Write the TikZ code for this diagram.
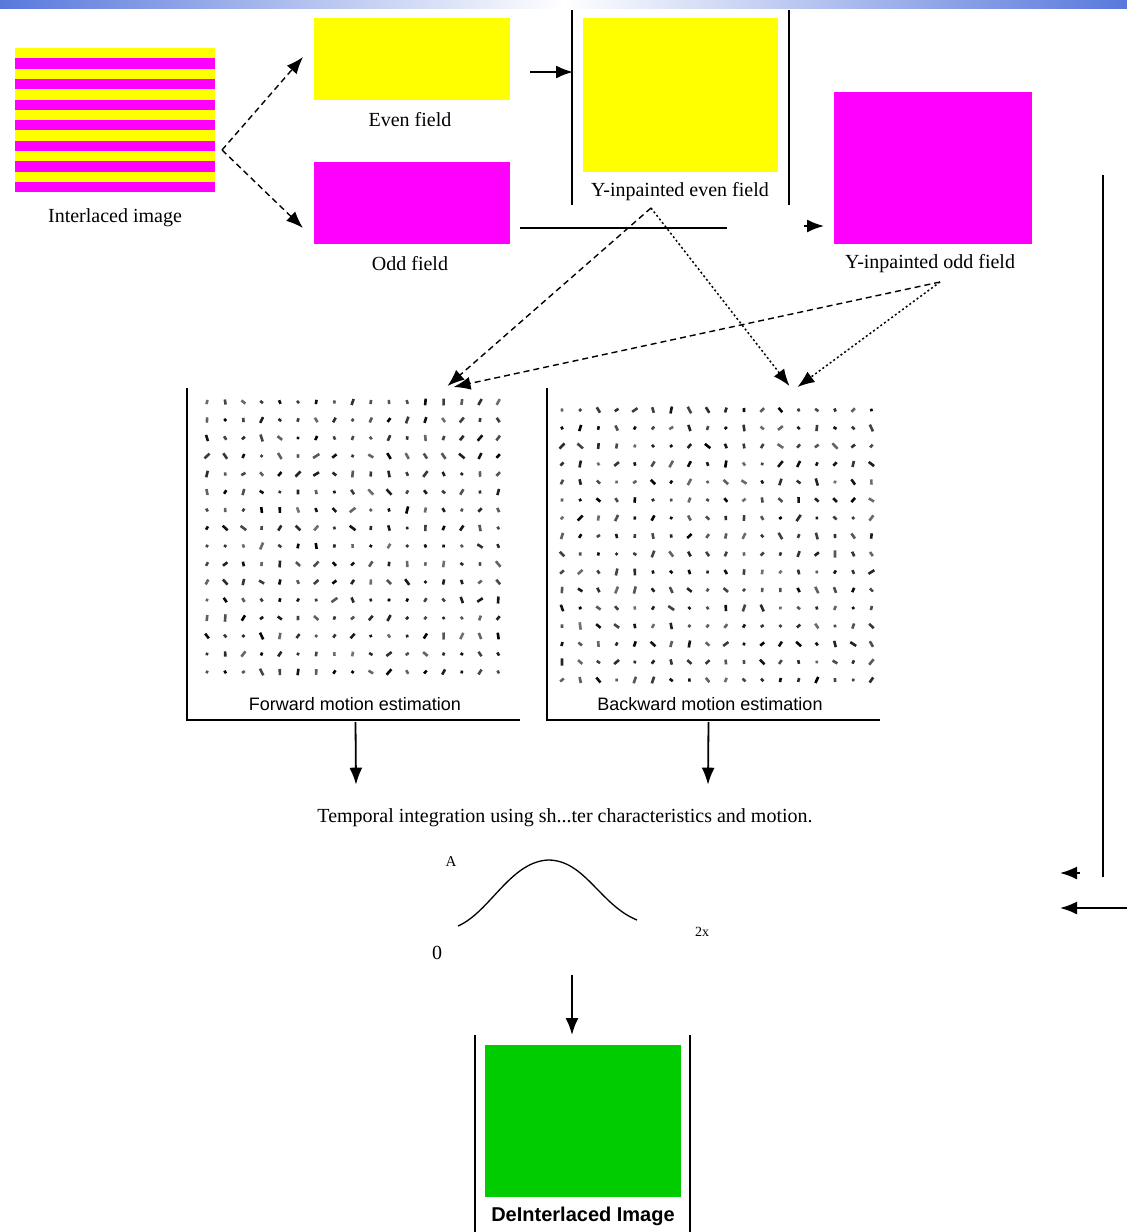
\documentclass[tikz,border=0pt]{standalone}
\usepackage{fontspec}
\setmainfont{Liberation Serif}
\setsansfont{Liberation Sans}
\usetikzlibrary{arrows.meta,calc}
\definecolor{barblue}{RGB}{88,120,220}
\definecolor{fldyellow}{RGB}{255,255,0}
\definecolor{fldmag}{RGB}{255,0,255}
\definecolor{fldgreen}{RGB}{0,204,0}
\tikzset{
  lbl/.style={font=\fontsize{20}{24}\selectfont, inner sep=0pt},
  slbl/.style={font=\sffamily\fontsize{18}{22}\selectfont, inner sep=0pt},
  blk/.style={rectangle, inner sep=0pt, outer sep=0pt, anchor=north west},
  frameline/.style={line width=1.8pt},
  darr/.style={dash pattern=on 6pt off 4pt, line width=1.4pt, -{Latex[length=17pt,width=13pt]}},
  dotarr/.style={dash pattern=on 2pt off 2.5pt, line width=1.5pt, -{Latex[length=17pt,width=13pt]}},
  sarr/.style={line width=1.8pt, -{Latex[length=17pt,width=13pt]}},
}
\newcommand\myvecfield[5]{%
  \pgfmathsetseed{#5}%
  \foreach \i in {1,...,#3} {%
    \foreach \j in {1,...,#4} {%
      \pgfmathsetmacro\px{#1+18.2*(\i-1)}%
      \pgfmathsetmacro\py{#2+18.0*(\j-1)}%
      \pgfmathsetmacro\ang{90+60*rand}%
      \pgfmathsetmacro\len{2.5+5*rnd}%
      \pgfmathsetmacro\gv{55+45*rnd}%
      \draw[line width=2.6pt, black!\gv] ($(\px,\py)+(\ang:-\len/2)$) -- ++(\ang:\len);
    }%
  }%
}
\begin{document}
\begin{tikzpicture}[x=1pt,y=-1pt]
\fill[white] (0,0) rectangle (1127,1232);
\useasboundingbox (0,0) rectangle (1127,1232);
\shade[left color=barblue, right color=barblue, middle color=white] (0,0) rectangle (1127,8);

% interlaced image
\foreach \k in {0,...,6} {
  \fill[fldyellow] (15,{48+20.6*\k}) rectangle (215,{58.3+20.6*\k});
  \fill[fldmag] (15,{58.3+20.6*\k}) rectangle (215,{68.6+20.6*\k});
}
\node[blk, minimum width=200pt, minimum height=144pt] (intl) at (15,48) {};
\node[lbl] (intllbl) at (115,218) {Interlaced image};

% fields
\node[blk, fill=fldyellow, minimum width=196pt, minimum height=82pt] (even) at (314,18) {};
\node[lbl] (evenlbl) at (410,120) {Even field};
\node[blk, fill=fldmag, minimum width=196pt, minimum height=82pt] (odd) at (314,162) {};
\node[lbl] (oddlbl) at (410,264) {Odd field};

\node[blk, fill=fldyellow, minimum width=195pt, minimum height=154pt] (yeven) at (583,18) {};
\node[lbl] (yevenlbl) at (680,192) {Y-inpainted even field};
\draw[frameline] (572,10) -- (572,205);
\draw[frameline] (789,10) -- (789,205);

\node[blk, fill=fldmag, minimum width=198pt, minimum height=152pt] (yodd) at (834,92) {};
\node[lbl] (yoddlbl) at (930,264) {Y-inpainted odd field};

% arrows top
\coordinate (split) at (222,150);
\draw[darr] (split) -- ($(even.west)+(-11,-2)$);
\draw[darr] (split) -- ($(odd.west)+(-11,25)$);
\coordinate (evenin) at (573,72);
\draw[sarr] ($(even.east)+(20,13)$) -- (evenin);
\draw[frameline] ($(odd.east)+(10,25)$) -- (727,228);
\coordinate (oddin) at (824,226);
\draw[sarr] (804,226) -- (oddin);

% motion panels
\node[blk, minimum width=333pt, minimum height=332pt] (fwd) at (187,388) {};
\node[blk, minimum width=333pt, minimum height=332pt] (bwd) at (547,388) {};
\myvecfield{207}{402}{17}{16}{42}
\myvecfield{562}{410}{18}{16}{7}
\draw[frameline] (fwd.north west) -- (fwd.south west) -- (fwd.south east);
\draw[frameline] (bwd.north west) -- (bwd.south west) -- (bwd.south east);
\node[slbl, fill=white, inner sep=1pt] (fwdlbl) at (355,704) {Forward motion estimation};
\node[slbl, fill=white, inner sep=1pt] (bwdlbl) at (710,704) {Backward motion estimation};

% dashed arrows to panels
\coordinate (yevsrc) at (651,208);
\coordinate (yodsrc) at (940,282);
\draw[darr] (yevsrc) -- ($(fwd.north)+(94,-2)$);
\draw[dotarr] (yevsrc) -- ($(bwd.north)+(76,-2)$);
\draw[darr] (yodsrc) -- ($(fwd.north)+(100,-1)$);
\draw[dotarr] (yodsrc) -- ($(bwd.north)+(84,-1)$);

% temporal integration
\node[lbl] (tempo) at (565,818) {Temporal integration using sh...ter characteristics and motion.};
\draw[sarr] ($(fwd.south)+(2,2)$) -- ($(tempo.north -| 356,0)+(0,-24)$);
\draw[sarr] ($(bwd.south)+(-5,2)$) -- ($(tempo.north -| 708,0)+(0,-24)$);

% shutter curve
\node[font=\fontsize{15}{18}\selectfont, inner sep=0pt] (cA) at (451,862) {A};
\node[lbl] (c0) at (437,953) {0};
\node[font=\fontsize{14}{17}\selectfont, inner sep=0pt] (c2x) at (702,932) {2x};
\coordinate (cs) at (458,926);
\coordinate (cpk) at (548,860);
\coordinate (ce) at (637,920);
\draw[line width=1.3pt] (cs) .. controls (490,912) and (510,862) .. (cpk) .. controls (585,860) and (600,905) .. (ce);

% right side
\draw[frameline] (1103,175) -- (1103,877);
\coordinate (rin1) at (1060,873);
\coordinate (rin2) at (1060,908);
\draw[sarr] (1080,873) -- (rin1);
\draw[sarr] (1127,908) -- (rin2);

% bottom
\node[blk, fill=fldgreen, minimum width=196pt, minimum height=152pt] (deint) at (485,1045) {};
\draw[frameline] (475,1035) -- (475,1232);
\draw[frameline] (690,1035) -- (690,1232);
\node[font=\sffamily\bfseries\fontsize{20}{24}\selectfont, inner sep=0pt] (deintlbl) at (583,1216) {DeInterlaced Image};
\draw[sarr] (572,975) -- ($(deint.north -| 572,0)+(0,-10)$);
\end{tikzpicture}
\end{document}
